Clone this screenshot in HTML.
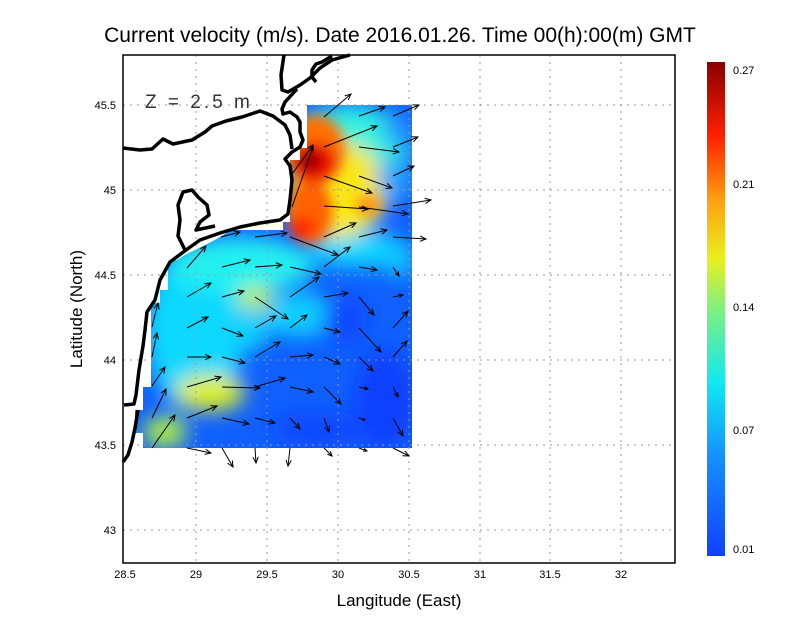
<!DOCTYPE html>
<html><head><meta charset="utf-8"><style>
body{margin:0;background:#fff;}
svg text{font-family:"Liberation Sans",sans-serif;}
</style></head><body>
<svg width="800" height="618" viewBox="0 0 800 618" xmlns="http://www.w3.org/2000/svg">
<defs>
<clipPath id="dc"><polygon points="307,105 412,105 412,448 143,448 143,433 135,433 135,410 143,410 143,387 151,387 151,303 160,303 160,290 168,290 168,262 177,260 185,255 195,250 205,245 215,240 228,232 228,230 283,230 283,222 290,222 290,160 300,160 300,148 307,148"/></clipPath>
<filter id="bl" x="-50%" y="-50%" width="200%" height="200%"><feGaussianBlur stdDeviation="10"/></filter>
<filter id="bl2" x="-50%" y="-50%" width="200%" height="200%"><feGaussianBlur stdDeviation="6"/></filter>
<linearGradient id="cb" x1="0" y1="1" x2="0" y2="0">
<stop offset="0" stop-color="#1040ff"/><stop offset="0.2" stop-color="#1590ff"/><stop offset="0.35" stop-color="#10e8f0"/><stop offset="0.5" stop-color="#80f080"/><stop offset="0.6" stop-color="#e8f020"/><stop offset="0.72" stop-color="#ffa010"/><stop offset="0.85" stop-color="#ff2000"/><stop offset="1" stop-color="#8a0000"/>
</linearGradient>
</defs>
<text x="400" y="42" font-size="21" text-anchor="middle">Current velocity (m/s). Date 2016.01.26. Time 00(h):00(m) GMT</text>
<g clip-path="url(#dc)">
<rect x="120" y="100" width="300" height="360" fill="#1060ff"/>
<g filter="url(#bl)">
<ellipse cx="195" cy="330" rx="50" ry="80" fill="#10d8ff"/>
<ellipse cx="240" cy="265" rx="75" ry="28" fill="#20f0f0"/>
<ellipse cx="350" cy="150" rx="60" ry="45" fill="#30f0e0"/>
<ellipse cx="300" cy="315" rx="35" ry="22" fill="#10d0ff"/>
<ellipse cx="360" cy="250" rx="50" ry="18" fill="#10d8ff"/>
<ellipse cx="400" cy="260" rx="14" ry="18" fill="#10c8ff"/>
<ellipse cx="250" cy="330" rx="20" ry="20" fill="#10d0ff"/>
<ellipse cx="385" cy="400" rx="30" ry="50" fill="#0840ff"/>
<ellipse cx="320" cy="430" rx="50" ry="18" fill="#0848ff"/>
<ellipse cx="345" cy="320" rx="22" ry="25" fill="#0848ff"/>
<ellipse cx="210" cy="393" rx="35" ry="18" fill="#e0f020"/>
<ellipse cx="165" cy="432" rx="22" ry="16" fill="#b0f040"/>
<ellipse cx="255" cy="298" rx="18" ry="12" fill="#c0f050"/>
<ellipse cx="338" cy="190" rx="48" ry="48" fill="#f8e818"/>
<ellipse cx="395" cy="180" rx="18" ry="22" fill="#20a0ff"/>
<ellipse cx="400" cy="130" rx="15" ry="18" fill="#2090ff"/>
</g>
<g filter="url(#bl2)">
<ellipse cx="315" cy="150" rx="30" ry="35" fill="#ff7000"/>
<ellipse cx="310" cy="212" rx="22" ry="32" fill="#ff6000"/>
<ellipse cx="314" cy="162" rx="22" ry="20" fill="#e81000"/>
<ellipse cx="309" cy="160" rx="11" ry="10" fill="#900000"/>
<ellipse cx="302" cy="228" rx="13" ry="11" fill="#ff2800"/>
<ellipse cx="368" cy="205" rx="13" ry="9" fill="#ff9010"/>
</g>
</g>
<g stroke="#999" stroke-width="1" stroke-dasharray="2,5" fill="none">
<line x1="196" y1="55" x2="196" y2="563"/><line x1="267" y1="55" x2="267" y2="563"/><line x1="338" y1="55" x2="338" y2="563"/><line x1="409" y1="55" x2="409" y2="563"/><line x1="480" y1="55" x2="480" y2="563"/><line x1="550" y1="55" x2="550" y2="563"/><line x1="621" y1="55" x2="621" y2="563"/>
<line x1="123" y1="105" x2="675" y2="105"/><line x1="123" y1="190" x2="675" y2="190"/><line x1="123" y1="275" x2="675" y2="275"/><line x1="123" y1="360" x2="675" y2="360"/><line x1="123" y1="445" x2="675" y2="445"/><line x1="123" y1="530" x2="675" y2="530"/>
</g>
<g stroke="#000" stroke-width="3.5" fill="none" stroke-linejoin="round">
<polyline points="284,55 281,75 282,90 288,92 300,85 310,78 320,68 332,60 350,55"/>
<polyline points="332,56 322,62 316,64 312,70 312,77 316,82"/>
<polyline points="297,89 285,102 282,109 283,114 290,112 297,117 300,122 300,132 303,140 300,147 292,152 285,159 290,166 292,180 290,200 288,214 280,220 260,223 240,227 220,233 200,240 186,250 170,262 160,280 155,300 147,312 145,330 143,346 139,370 136,395 134,404 124,405"/>
<polyline points="123,148 140,150 152,149 163,139 173,144 192,140 205,132 212,126 226,121 242,117 260,111 273,116 285,125 290,135 292,149"/>
<polyline points="185,250 178,236 180,220 178,205 183,192 192,190 198,197 207,205 209,215 200,222 196,230 215,226"/>
<polyline points="138,410 135,428 132,442 128,455 123,462"/>
</g>
<rect x="123" y="55" width="552" height="508" fill="none" stroke="#000" stroke-width="1.5"/>
<text x="145" y="108" font-size="19" fill="#333" letter-spacing="3">Z = 2.5 m</text>
<g stroke="#000" stroke-width="1" fill="none" id="arrows"></g>
<g font-size="11" text-anchor="middle">
<text x="125" y="578">28.5</text><text x="196" y="578">29</text><text x="267" y="578">29.5</text><text x="338" y="578">30</text><text x="409" y="578">30.5</text><text x="480" y="578">31</text><text x="550" y="578">31.5</text><text x="621" y="578">32</text>
</g>
<g font-size="11" text-anchor="end">
<text x="116" y="109">45.5</text><text x="116" y="194">45</text><text x="116" y="279">44.5</text><text x="116" y="364">44</text><text x="116" y="449">43.5</text><text x="116" y="534">43</text>
</g>
<text x="399" y="606" font-size="17" text-anchor="middle">Langitude (East)</text>
<text transform="translate(82,309) rotate(-90)" font-size="17" text-anchor="middle">Latitude (North)</text>
<rect x="707" y="62" width="18" height="494" fill="url(#cb)"/>
<g font-size="11">
<text x="733" y="74">0.27</text><text x="733" y="188">0.21</text><text x="733" y="311">0.14</text><text x="733" y="434">0.07</text><text x="733" y="553">0.01</text>
</g>
<g stroke="#000" stroke-width="1" fill="none">
<path id="ad" d="M324,117L351,94M359,116L385,107M393,116L419,105M324,147L377,126M359,147L399,152M393,147L418,137M290,177L313,145M292,207L313,147M324,176L372,193M359,176L392,188M393,176L414,166M324,206L368,209M359,207L408,214M393,206L431,200M221,237L240,232M255,237L287,233M290,237L338,255M324,237L356,223M359,237L387,230M393,237L426,239M187,268L206,246M222,267L250,260M255,267L282,265M290,267L321,274M324,267L350,247M359,267L377,270M393,267L399,276M187,297L211,283M222,297L244,291M255,297L288,319M290,297L319,277M324,297L348,293M359,297L374,315M393,297L403,295M152,327L158,303M152,357L157,333M152,386L165,367M152,418L166,389M152,448L175,415M187,328L208,317M222,328L243,336M255,328L276,316M290,328L307,315M324,328L340,332M359,328L381,352M393,328L408,311M187,357L211,357M222,357L245,363M255,357L280,342M290,357L313,355M324,357L340,364M359,357L373,371M393,357L407,341M187,387L221,377M222,387L260,388M255,387L285,378M290,387L313,392M324,387L341,404M359,387L368,389M393,387L398,397M187,418L217,406M222,418L249,424M255,418L275,423M290,418L300,429M324,418L329,432M359,418L365,420M393,418L403,436M187,448L211,453M222,448L233,467M255,448L256,463M290,448L288,466M324,448L332,456M359,448L367,451M393,448L409,456"/>
</g>
<script>
(function(){
var d=document.getElementById('ad').getAttribute('d');
var segs=d.match(/M[\d.]+,[\d.]+L[\d.]+,[\d.]+/g);
var g=document.getElementById('arrows');var out='';
segs.forEach(function(s){var n=s.match(/[\d.]+/g).map(Number);
var dx=n[2]-n[0],dy=n[3]-n[1],L=Math.sqrt(dx*dx+dy*dy);if(L<1)return;
var ux=dx/L,uy=dy/L,h=Math.min(6,L*0.4),w=h*0.45;
var bx=n[2]-ux*h,by=n[3]-uy*h;
out+='M'+(bx-uy*w)+','+(by+ux*w)+'L'+n[2]+','+n[3]+'L'+(bx+uy*w)+','+(by-ux*w);});
var p=document.createElementNS('http://www.w3.org/2000/svg','path');p.setAttribute('d',out);g.appendChild(p);
})();
</script>
</svg>
</body></html>
